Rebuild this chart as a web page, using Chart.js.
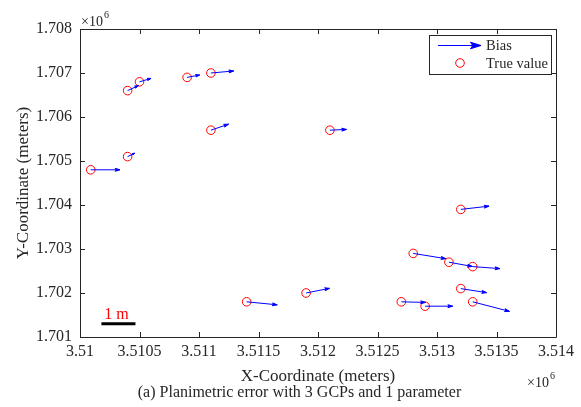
<!DOCTYPE html>
<html>
<head>
<meta charset="utf-8">
<script src="https://cdn.jsdelivr.net/npm/chart.js@4.4.1/dist/chart.umd.min.js"></script>
<style>
html,body{margin:0;padding:0;background:#fff;}
#wrap{width:581px;height:407px;position:relative;}
</style>
</head>
<body>
<div id="wrap"><canvas id="c" width="581" height="407"></canvas></div>
<script>
// ---- data ----
const trueX = [3510090, 3510400, 3510500, 3510900, 3511100, 3511100, 3510400, 3512100, 3513200,
               3512800, 3513100, 3513300, 3513200, 3513300, 3512700, 3512900, 3511900, 3511400];
const trueY = [1704800, 1706600, 1706800, 1706900, 1707000, 1705700, 1705100, 1705700, 1703900,
               1702900, 1702700, 1702600, 1702100, 1701800, 1701800, 1701700, 1702000, 1701800];
// bias in metres (east, north)
const biasX = [0.86, 0.32, 0.34, 0.37, 0.67, 0.52, 0.21, 0.49, 0.83,
               0.96, 0.69, 0.80, 0.76, 1.08, 0.71, 0.81, 0.69, 0.90];
const biasY = [0.00, 0.40, 0.27, 0.19, 0.16, 0.48, 0.27, 0.06, 0.26,
               -0.42, -0.34, -0.16, -0.32, -0.76, -0.05, 0.00, 0.37, -0.24];
const quiverScale = 286;            // plotted data units per metre of bias
const scaleBarStart = [3510180, 1701300];
const scaleBarLength = 1;           // metres
const xTickValues = [3510000, 3510500, 3511000, 3511500, 3512000, 3512500, 3513000, 3513500, 3514000];
const xTickLabels = ['3.51', '3.5105', '3.511', '3.5115', '3.512', '3.5125', '3.513', '3.5135', '3.514'];
const yTickValues = [1701000, 1702000, 1703000, 1704000, 1705000, 1706000, 1707000, 1708000];
const yTickLabels = ['1.701', '1.702', '1.703', '1.704', '1.705', '1.706', '1.707', '1.708'];
const xTitle = 'X-Coordinate (meters)';
const yTitle = 'Y-Coordinate (meters)';
const caption = '(a) Planimetric error with 3 GCPs and 1 parameter';
const legendLabels = ['Bias', 'True value'];

// ---- build datasets ----
const arrowData = [];
for (let i = 0; i < trueX.length; i++) {
  arrowData.push({x: trueX[i], y: trueY[i]});
  arrowData.push({x: trueX[i] + biasX[i] * quiverScale, y: trueY[i] + biasY[i] * quiverScale});
  arrowData.push({x: NaN, y: NaN});
}
const pointData = trueX.map((x, i) => ({x: x, y: trueY[i]}));
const barData = [
  {x: scaleBarStart[0], y: scaleBarStart[1]},
  {x: scaleBarStart[0] + scaleBarLength * quiverScale, y: scaleBarStart[1]}
];

const FONT = "'Liberation Serif', 'Times New Roman', serif";
const AX = '#262626';

function head(ctx, x0, y0, x1, y1, len, color) {
  const a = Math.atan2(y1 - y0, x1 - x0);
  const L = Math.hypot(x1 - x0, y1 - y0);
  const h = Math.min(len, L * 0.33);
  const w = 0.3;
  ctx.save();
  ctx.fillStyle = color;
  ctx.strokeStyle = color;
  ctx.lineWidth = 1;
  ctx.beginPath();
  ctx.moveTo(x1, y1);
  ctx.lineTo(x1 - h * Math.cos(a - w), y1 - h * Math.sin(a - w));
  ctx.lineTo(x1 - h * 0.75 * Math.cos(a), y1 - h * 0.75 * Math.sin(a));
  ctx.lineTo(x1 - h * Math.cos(a + w), y1 - h * Math.sin(a + w));
  ctx.closePath();
  ctx.fill();
  ctx.stroke();
  ctx.restore();
}

const deco = {
  id: 'deco',
  afterDatasetsDraw(chart) {
    const ctx = chart.ctx;
    const xs = chart.scales.x, ys = chart.scales.y;
    const ca = chart.chartArea;
    // arrow heads
    for (let i = 0; i < trueX.length; i++) {
      const x0 = xs.getPixelForValue(trueX[i]), y0 = ys.getPixelForValue(trueY[i]);
      const x1 = xs.getPixelForValue(trueX[i] + biasX[i] * quiverScale);
      const y1 = ys.getPixelForValue(trueY[i] + biasY[i] * quiverScale);
      head(ctx, x0, y0, x1, y1, 5, '#0000ff');
    }
    // scale-bar label
    const bx = (xs.getPixelForValue(barData[0].x) + xs.getPixelForValue(barData[1].x)) / 2;
    const by = ys.getPixelForValue(barData[0].y);
    ctx.save();
    ctx.fillStyle = '#ff0000';
    ctx.font = '16px ' + FONT;
    ctx.textAlign = 'center';
    ctx.textBaseline = 'alphabetic';
    ctx.fillText('1 m', bx - 2, by - 5);
    ctx.restore();

    // box + inward ticks
    ctx.save();
    ctx.strokeStyle = AX;
    ctx.lineWidth = 1;
    ctx.beginPath();
    ctx.rect(Math.round(ca.left) + 0.5, Math.round(ca.top) + 0.5,
             Math.round(ca.right - ca.left), Math.round(ca.bottom - ca.top));
    xTickValues.forEach(v => {
      const p = Math.round(xs.getPixelForValue(v)) + 0.5;
      ctx.moveTo(p, ca.bottom); ctx.lineTo(p, ca.bottom - 5);
      ctx.moveTo(p, ca.top); ctx.lineTo(p, ca.top + 5);
    });
    yTickValues.forEach(v => {
      const p = Math.round(ys.getPixelForValue(v)) + 0.5;
      ctx.moveTo(ca.left, p); ctx.lineTo(ca.left + 5, p);
      ctx.moveTo(ca.right, p); ctx.lineTo(ca.right - 5, p);
    });
    ctx.stroke();

    // legend
    const lx = 429.5, ly = 35.5, lw = 122, lh = 39;
    ctx.fillStyle = '#fff';
    ctx.fillRect(lx, ly, lw, lh);
    ctx.strokeStyle = AX;
    ctx.strokeRect(lx, ly, lw, lh);
    ctx.strokeStyle = '#0000ff';
    ctx.beginPath();
    ctx.moveTo(438, 45.5); ctx.lineTo(481, 45.5);
    ctx.stroke();
    head(ctx, 438, 45.5, 481, 45.5, 11, '#0000ff');
    ctx.strokeStyle = '#ff0000';
    ctx.beginPath();
    ctx.arc(460, 63, 4.3, 0, Math.PI * 2);
    ctx.stroke();
    ctx.fillStyle = AX;
    ctx.font = '14.5px ' + FONT;
    ctx.textAlign = 'left';
    ctx.textBaseline = 'middle';
    ctx.fillText(legendLabels[0], 486, 46);
    ctx.fillText(legendLabels[1], 486, 64);

    // x10^6 exponents
    ctx.font = '14px ' + FONT;
    ctx.textBaseline = 'alphabetic';
    ctx.fillText('\u00d710', 81, 26);
    ctx.font = '10px ' + FONT;
    ctx.fillText('6', 104, 18);
    ctx.font = '14px ' + FONT;
    ctx.fillText('\u00d710', 527, 387);
    ctx.font = '10px ' + FONT;
    ctx.fillText('6', 550, 379);

    // caption
    ctx.font = '16px ' + FONT;
    ctx.textAlign = 'center';
    ctx.textBaseline = 'middle';
    ctx.fillText(caption, 299.5, 393);
    ctx.restore();
  }
};

new Chart(document.getElementById('c'), {
  type: 'scatter',
  data: {
    datasets: [
      {
        label: legendLabels[0],
        data: arrowData,
        showLine: true,
        spanGaps: false,
        borderColor: '#0000ff',
        borderWidth: 1,
        pointRadius: 0,
        order: 1
      },
      {
        label: legendLabels[1],
        data: pointData,
        pointStyle: 'circle',
        pointRadius: 4.3,
        pointBorderWidth: 1,
        pointBackgroundColor: 'rgba(0,0,0,0)',
        pointBorderColor: '#ff0000',
        order: 2
      },
      {
        label: 'scale',
        data: barData,
        showLine: true,
        borderColor: '#000000',
        borderWidth: 3,
        pointRadius: 0,
        order: 0
      }
    ]
  },
  options: {
    responsive: false,
    animation: false,
    devicePixelRatio: 1,
    layout: {padding: {left: 0, top: 29, right: 25, bottom: 0}},
    plugins: {legend: {display: false}, tooltip: {enabled: false}, title: {display: false}},
    scales: {
      x: {
        type: 'linear',
        min: 3510000, max: 3514000,
        afterBuildTicks: s => { s.ticks = xTickValues.map(v => ({value: v})); },
        afterFit: s => { s.height = 70; },
        grid: {display: false, drawTicks: false},
        border: {display: false},
        ticks: {
          padding: 5,
          maxRotation: 0,
          autoSkip: false,
          color: AX,
          font: {family: FONT, size: 16},
          callback: (v, i) => xTickLabels[i]
        },
        title: {display: true, text: xTitle, color: AX, font: {family: FONT, size: 17}, padding: {top: 0, bottom: 20}}
      },
      y: {
        type: 'linear',
        min: 1701000, max: 1708000,
        afterBuildTicks: s => { s.ticks = yTickValues.map(v => ({value: v})); },
        afterFit: s => { s.width = 80; },
        grid: {display: false, drawTicks: false},
        border: {display: false},
        ticks: {
          padding: 8,
          autoSkip: false,
          color: AX,
          font: {family: FONT, size: 16},
          callback: (v, i) => yTickLabels[i]
        },
        title: {display: true, text: yTitle, color: AX, font: {family: FONT, size: 17}, padding: {top: 13, bottom: 0}}
      }
    }
  },
  plugins: [deco]
});
</script>
</body>
</html>
